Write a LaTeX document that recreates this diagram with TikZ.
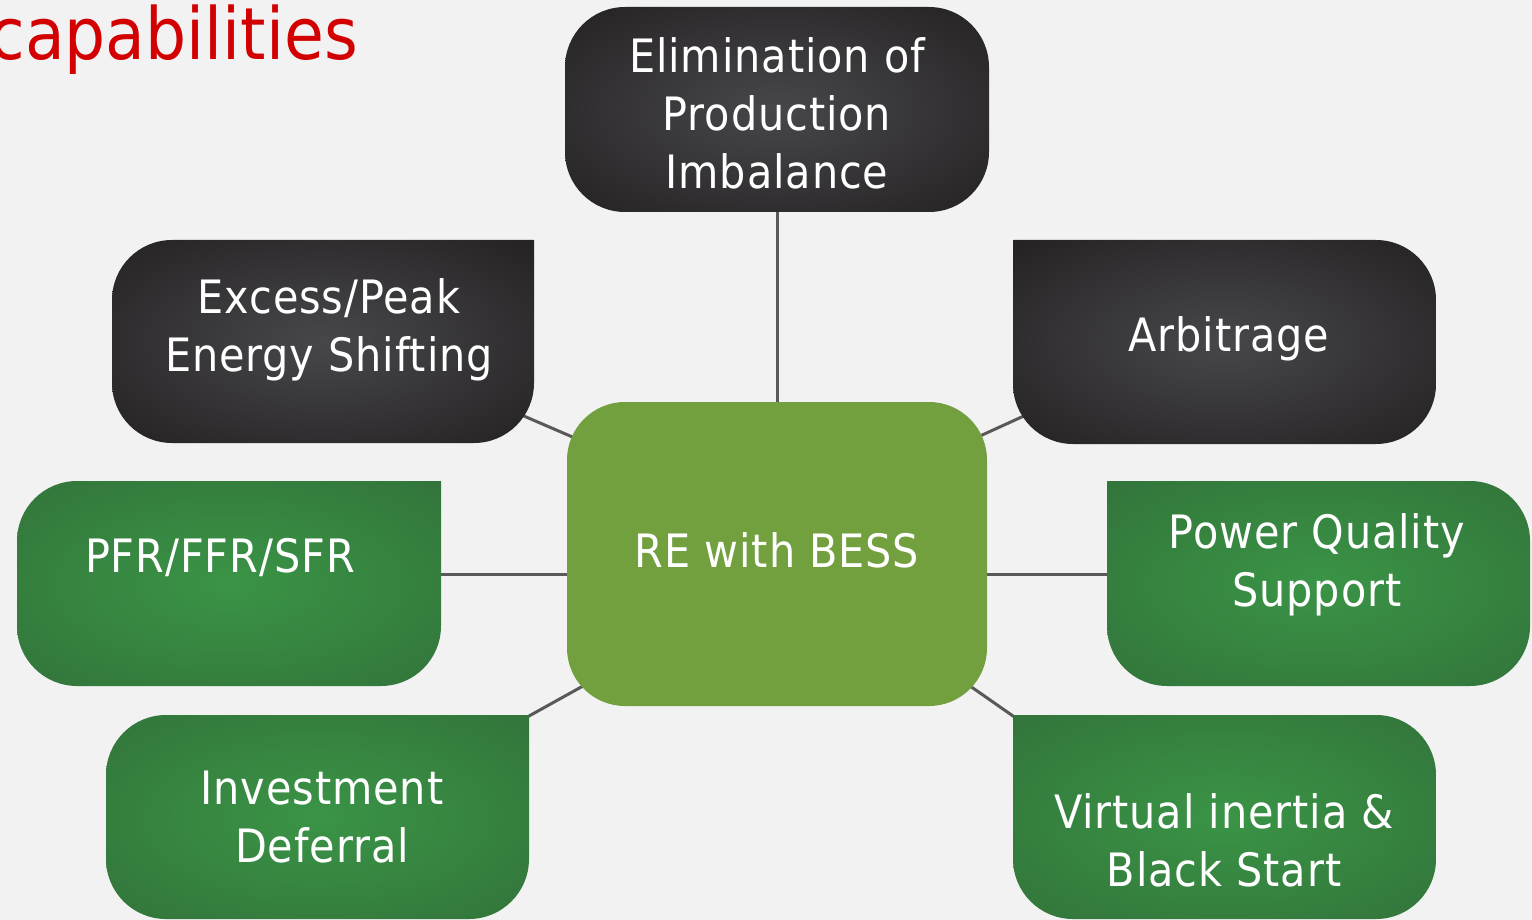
\documentclass[tikz,border=0pt]{standalone}
\usepackage{fontspec}
\setmainfont{DejaVu Sans Condensed}[LetterSpace=2]
\newfontfamily\titlefont{DejaVu Sans Condensed}
\usetikzlibrary{backgrounds}
\definecolor{bgc}{HTML}{F2F2F2}
\definecolor{darkin}{HTML}{47474B}
\definecolor{darkout}{HTML}{231F20}
\definecolor{greenin}{HTML}{3A9446}
\definecolor{greenout}{HTML}{32723A}
\definecolor{maingreen}{HTML}{72A03F}
\definecolor{linkc}{HTML}{595959}
\definecolor{titlered}{HTML}{D20000}
\pgfdeclareradialshading{softdark}{\pgfpointorigin}{color(0bp)=(darkin); color(38bp)=(darkout); color(50bp)=(darkout)}
\pgfdeclareradialshading{softgreen}{\pgfpointorigin}{color(0bp)=(greenin); color(38bp)=(greenout); color(50bp)=(greenout)}
\tikzset{
  darkbox/.style={shading=softdark},
  greenbox/.style={shading=softgreen},
  lbl/.style={text=white, font=\fontsize{46}{58}\selectfont, align=center, inner sep=0pt},
  link/.style={draw=linkc, line width=3pt},
}
% #1 style, #2 L, #3 T, #4 R, #5 B, #6 r top-left, #7 r top-right, #8 r bottom-right, #9 r bottom-left
\newcommand\capshape[9]{%
  \shade[#1] (#2+#6,#3) -- (#4-#7,#3) arc[start angle=-90,end angle=0,radius=#7]
    -- (#4,#5-#8) arc[start angle=0,end angle=90,radius=#8]
    -- (#2+#9,#5) arc[start angle=90,end angle=180,radius=#9]
    -- (#2,#3+#6) arc[start angle=180,end angle=270,radius=#6] -- cycle;}
\begin{document}
\begin{tikzpicture}[x=1pt,y=-1pt]
\useasboundingbox (0,0) rectangle (1532,920);

% title
\node[anchor=base east, inner sep=0pt, text=titlered, font=\titlefont\fontsize{72}{80}\selectfont] (title) at (358,60) {capabilities};

% boxes
\capshape{darkbox}{565}{7}{989}{212}{60}{60}{60}{60}
\node[lbl] (elim) at (777,113) {Elimination of\\Production\\Imbalance};

\capshape{darkbox}{112}{240}{534}{443}{60}{0.5}{60}{60}
\node[lbl] (excess) at (329,330) {Excess/Peak\\Energy Shifting};

\capshape{darkbox}{1013}{240}{1436}{444}{0.5}{60}{60}{60}
\node[lbl] (arb) at (1229,339) {Arbitrage};

\capshape{greenbox}{17}{481}{441}{686}{60}{0.5}{60}{60}
\node[lbl] (pfr) at (220,558) {PFR/FFR/SFR};

\capshape{greenbox}{1107}{481}{1530}{686}{0.5}{60}{60}{60}
\node[lbl] (pq) at (1317,565) {Power Quality\\Support};

\capshape{greenbox}{106}{715}{529}{919}{60}{0.5}{60}{60}
\node[lbl] (inv) at (322,817) {Investment\\Deferral};

\capshape{greenbox}{1013}{715}{1436}{919}{0.5}{60}{60}{60}
\node[lbl] (virt) at (1224,840) {Virtual inertia \&\\Black Start};

\node[fill=maingreen, rounded corners=58pt, minimum width=420pt, minimum height=304pt, inner sep=0pt] (main) at (777,554) {};
\node[lbl] (maint) at (777,550) {RE with BESS};

% connector end points (inside the boxes, hidden by them)
\coordinate (excA) at (496,404);   \coordinate (excB) at (598,448);
\coordinate (arbA) at (1049,404.5); \coordinate (arbB) at (957,446.5);
\coordinate (invA) at (502,731);   \coordinate (invB) at (610,671);
\coordinate (virA) at (1034.5,731); \coordinate (virB) at (948.5,671);
\coordinate (hrow) at (777,574);

\begin{pgfonlayer}{background}
  \fill[bgc] (0,0) rectangle (1532,920);
  \draw[link] (elim) -- (elim |- main);
  \draw[link] (excA) -- (excB);
  \draw[link] (arbA) -- (arbB);
  \draw[link] (pfr |- hrow) -- (main.center |- hrow);
  \draw[link] (pq |- hrow) -- (main.center |- hrow);
  \draw[link] (invA) -- (invB);
  \draw[link] (virA) -- (virB);
\end{pgfonlayer}
\end{tikzpicture}
\end{document}
